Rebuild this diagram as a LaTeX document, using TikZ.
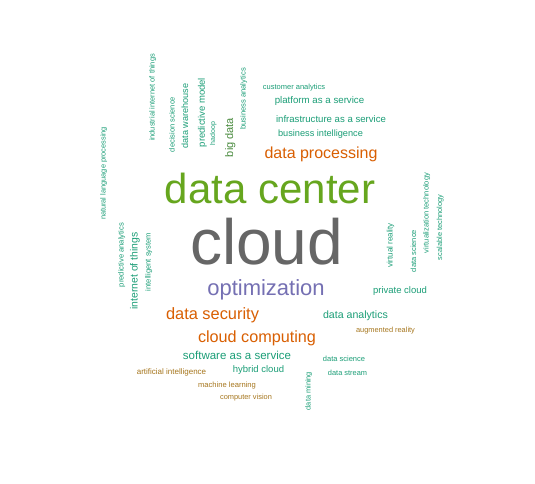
\documentclass[tikz,border=0pt]{standalone}
\usepackage{fontspec}
\setmainfont{Liberation Sans}
\usepackage{tikz}

\tikzset{
  word/.style={inner sep=0pt,anchor=base,font=\fontsize{#1}{#1}\selectfont},
  vword/.style={word=#1,rotate=90},
}

\begin{document}
\begin{tikzpicture}[x=1pt,y=-1pt]
%%
%%
\definecolor{c1}{HTML}{1B9E77}%
\definecolor{c2}{HTML}{D95F02}%
\definecolor{c3}{HTML}{7570B3}%
\definecolor{c4}{HTML}{66A61E}%
\definecolor{c5}{HTML}{A6761D}%
\definecolor{c6}{HTML}{666666}%
\definecolor{c7}{HTML}{4A8B3F}%
%
\useasboundingbox[fill=white] (0,0) rectangle (535,484);
%
  \node (cloud) at (266.5,264) [word=64,c6] {cloud};
  \node (dc) at (270,203) [word=42,c4] {data center};
  \node (opt) at (266,295) [word=22,c3] {optimization};
  \node (dp) at (321,158) [word=16,c2] {data processing};
  \node (ds) at (212.5,319) [word=16.4,c2] {data security};
  \node (cc) at (257,342) [word=16.2,c2] {cloud computing};
%
  \node (saas) at (237,359) [word=11.5,c1] {software as a service};
  \node (hc) at (258.5,372) [word=9.5,c1] {hybrid cloud};
  \node (ai) at (171.5,374) [word=8,c5] {artificial intelligence};
  \node (ml) at (227,387) [word=7.6,c5] {machine learning};
  \node (cv) at (246,399) [word=7.4,c5] {computer vision};
  \node (ca) at (294,90) [word=7.5,c1] {customer analytics};
  \node (paas) at (319.5,104) [word=9.7,c1] {platform as a service};
  \node (iaas) at (331,123) [word=9.6,c1] {infrastructure as a service};
  \node (bi) at (320.5,136) [word=9.2,c1] {business intelligence};
  \node (da) at (355.5,318) [word=10.6,c1] {data analytics};
  \node (ar) at (385.5,332) [word=7.4,c5] {augmented reality};
  \node (dsci) at (344,361) [word=7.5,c1] {data science};
  \node (dstr) at (347.5,375) [word=7.4,c1] {data stream};
  \node (pc) at (400,293) [word=9.5,c1] {private cloud};
%
  \node (dm) at (310.5,391) [vword=7.4,c1] {data mining};
  \node (vr) at (392.7,245.5) [vword=8,c1] {virtual reality};
  \node (dsci2) at (416,251) [vword=7.5,c1] {data science};
  \node (vt) at (428.5,213) [vword=7.5,c1] {virtualization technology};
  \node (st) at (442,227.5) [vword=7.4,c1] {scalable technology};
  \node (nlp) at (105.5,173.5) [vword=7.4,c1] {natural language processing};
  \node (pa) at (123.5,255) [vword=7.6,c1] {predictive analytics};
  \node (iot) at (137.5,271) [vword=10.4,c1] {internet of things};
  \node (is) at (150.5,262) [vword=7.6,c1] {intelligent system};
  \node (iiot) at (154.5,97.5) [vword=7.45,c1] {industrial internet of things};
  \node (dsc) at (174.5,124.5) [vword=7.5,c1] {decision science};
  \node (dw) at (188,116) [vword=9.1,c1] {data warehouse};
  \node (pm) at (204.8,112.5) [vword=9.5,c1] {predictive model};
  \node (hd) at (215,133.5) [vword=7,c1] {hadoop};
  \node (bd) at (233,137.5) [vword=11,c7] {big data};
  \node (ba) at (245.5,99) [vword=7.6,c1] {business analytics};
%
\end{tikzpicture}
\end{document}
